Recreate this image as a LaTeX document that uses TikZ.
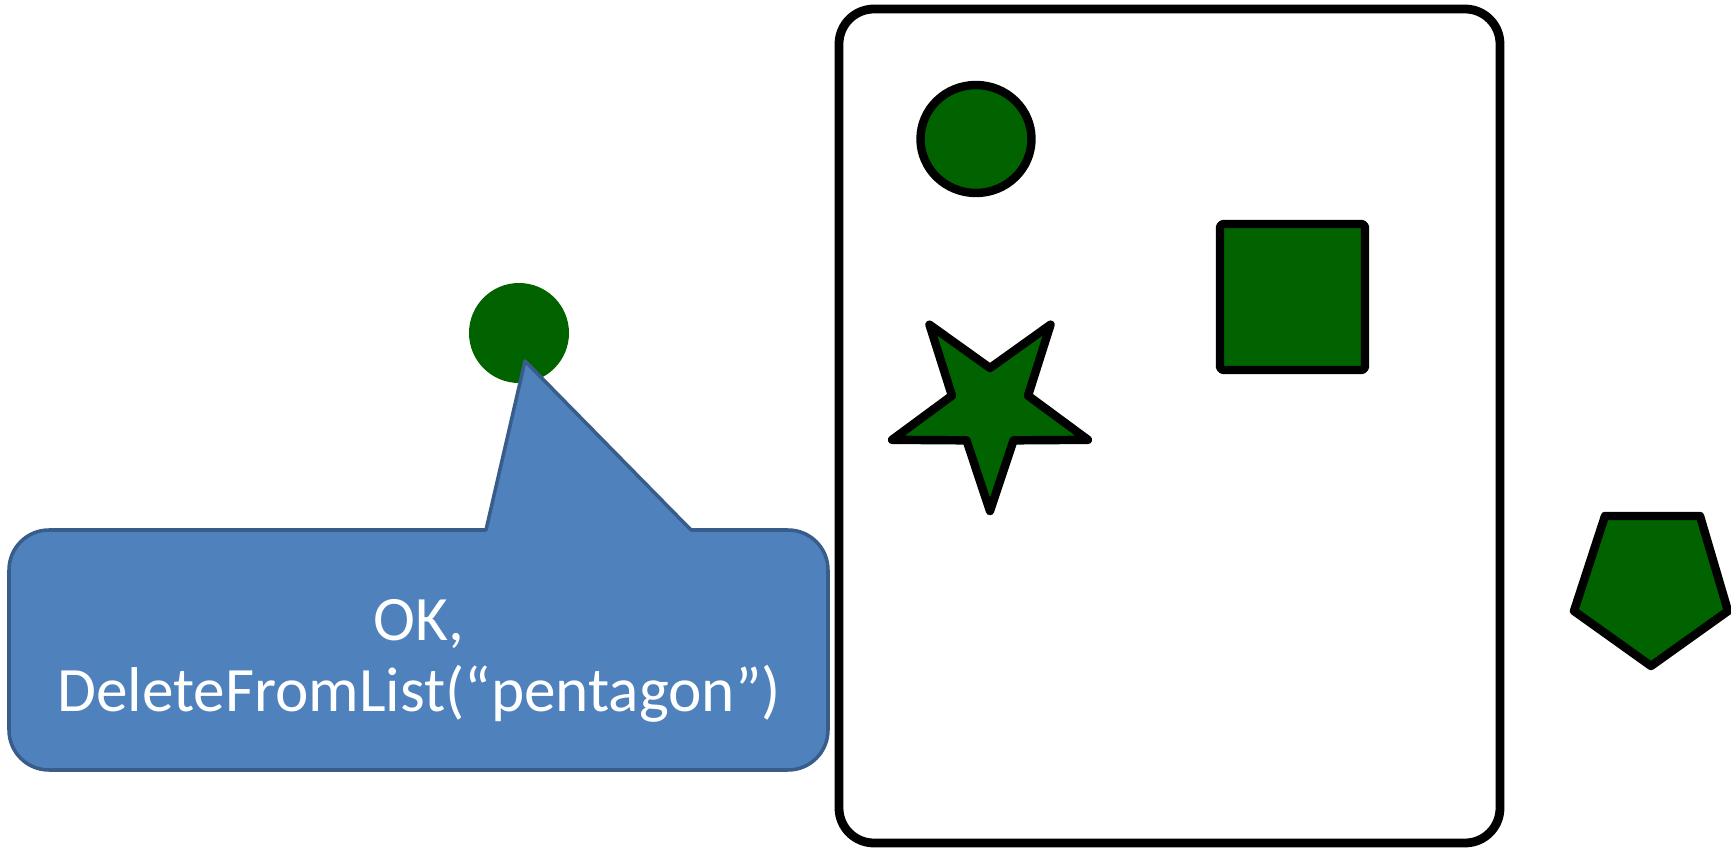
\documentclass[tikz,border=0pt]{standalone}
\usepackage{fontspec}
\newfontfamily\bubblefont{Carlito}
\usepackage{xcolor}
\usetikzlibrary{calc}
\definecolor{shapegreen}{RGB}{0,99,0}
\definecolor{bubblefill}{RGB}{79,129,189}
\definecolor{bubbleedge}{RGB}{56,93,138}
\tikzset{
    shapeline/.style={draw=black, line width=2.4pt, line join=round, fill=shapegreen},
    board/.style={draw=black, line width=2.5pt, rounded corners=0.35cm},
    bubble/.style={draw=bubbleedge, line width=1pt, line join=round, fill=bubblefill}
}

\begin{document}
\begin{tikzpicture}
    \useasboundingbox (0,0) rectangle (17.31,8.51);
    % board with the shapes on it
    \draw[board] (8.39,0.08) rectangle (15.00,8.42);
    \draw[shapeline] (9.76,7.12) ellipse [x radius=0.555, y radius=0.54];
    \draw[shapeline, rounded corners=1pt] (12.20,4.81) rectangle (13.65,6.27);
    \draw[shapeline, shift={(9.90,4.43)}] (270:1.03) -- (306:0.4) -- (342:1.03) -- (18:0.4) -- (54:1.03) -- (90:0.4) -- (126:1.03) -- (162:0.4) -- (198:1.03) -- (234:0.4) -- cycle;
    % the pentagon off the board
    \draw[shapeline] (16.05,3.35) -- (17.00,3.35) -- (17.28,2.40) -- (16.51,1.85) -- (15.74,2.40) -- cycle;
    % speech bubble
    \fill[shapegreen] (5.19,5.18) circle (0.5);
    \coordinate (tip) at (5.25,4.90);
    \draw[bubble] (4.86,3.21) -- (tip) -- (6.91,3.21) -- (7.88,3.21) arc[start angle=90, end angle=0, radius=0.4]
        -- (8.28,1.21) arc[start angle=0, end angle=-90, radius=0.4]
        -- (0.49,0.81) arc[start angle=270, end angle=180, radius=0.4]
        -- (0.09,2.81) arc[start angle=180, end angle=90, radius=0.4] -- cycle;
    \node[text=white, font=\bubblefont\fontsize{18}{20.2}\selectfont, align=center] (msg) at (4.19,1.90) {OK,\\DeleteFromList(“pentagon”)};
\end{tikzpicture}
\end{document}
